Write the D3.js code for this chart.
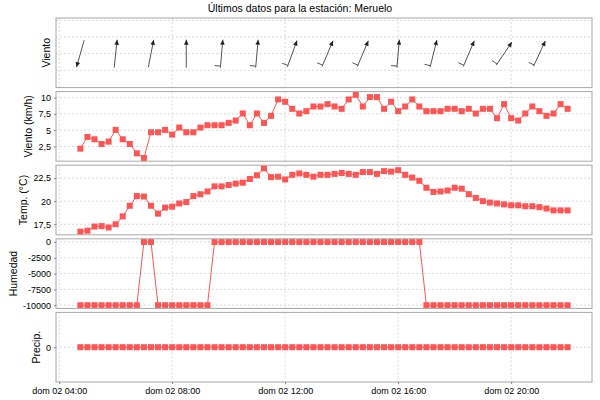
<!DOCTYPE html>
<html>
<head>
<meta charset="utf-8">
<script src="https://cdn.jsdelivr.net/npm/d3@7"></script>
<style>
body { margin: 0; background: #fff; }
svg { display: block; font-family: "Liberation Sans", Arial, sans-serif; }
</style>
</head>
<body>
<div id="chart"></div>
<script>
// observation times, 2 June 2013 (sunday), one every 15 minutes
var times = ['04:45', '05:00', '05:15', '05:30', '05:45', '06:00', '06:15', '06:30', '06:45', '07:00',
    '07:15', '07:30', '07:45', '08:00', '08:15', '08:30', '08:45', '09:00', '09:15', '09:30',
    '09:45', '10:00', '10:15', '10:30', '10:45', '11:00', '11:15', '11:30', '11:45', '12:00',
    '12:15', '12:30', '12:45', '13:00', '13:15', '13:30', '13:45', '14:00', '14:15', '14:30',
    '14:45', '15:00', '15:15', '15:30', '15:45', '16:00', '16:15', '16:30', '16:45', '17:00',
    '17:15', '17:30', '17:45', '18:00', '18:15', '18:30', '18:45', '19:00', '19:15', '19:30',
    '19:45', '20:00', '20:15', '20:30', '20:45', '21:00', '21:15', '21:30', '21:45', '22:00'];

var windSpeed = [2.16, 3.96, 3.6, 2.88, 3.24, 5.04, 3.6, 2.88, 1.44, 0.72,
    4.68, 4.68, 5.04, 4.32, 5.4, 4.68, 4.68, 5.4, 5.76, 5.76,
    5.76, 6.12, 6.48, 7.56, 5.76, 7.56, 6.12, 7.2, 9.72, 9.36,
    8.28, 7.56, 7.92, 8.64, 8.64, 9.0, 8.64, 8.28, 9.72, 10.44,
    8.64, 10.08, 10.08, 8.28, 9.36, 7.92, 8.64, 9.72, 8.64, 7.92,
    7.92, 7.92, 8.28, 8.28, 7.92, 8.28, 7.56, 8.28, 8.28, 6.84,
    9.0, 6.84, 6.48, 7.56, 8.64, 7.92, 7.2, 7.56, 9.0, 8.28];

var temperature = [16.7, 16.8, 17.25, 17.3, 17.15, 17.5, 18.35, 19.5, 20.55, 20.5,
    19.5, 18.65, 19.3, 19.4, 19.75, 19.9, 20.55, 20.75, 21.05, 21.6,
    21.6, 21.75, 21.9, 22.0, 22.4, 22.8, 23.55, 22.6, 22.65, 22.35,
    22.85, 23.0, 22.85, 22.65, 22.85, 22.85, 22.95, 23.05, 22.95, 22.85,
    23.15, 23.15, 22.95, 23.25, 23.2, 23.35, 22.85, 22.55, 22.2, 21.45,
    21.0, 21.05, 21.15, 21.45, 21.35, 20.75, 20.35, 20.0, 19.85, 19.75,
    19.65, 19.55, 19.55, 19.45, 19.45, 19.35, 19.2, 19.0, 19.0, 19.0];

var humidity = [-10000, -10000, -10000, -10000, -10000, -10000, -10000, -10000, -10000, 0,
    0, -10000, -10000, -10000, -10000, -10000, -10000, -10000, -10000, 0,
    0, 0, 0, 0, 0, 0, 0, 0, 0, 0,
    0, 0, 0, 0, 0, 0, 0, 0, 0, 0,
    0, 0, 0, 0, 0, 0, 0, 0, 0, -10000,
    -10000, -10000, -10000, -10000, -10000, -10000, -10000, -10000, -10000, -10000,
    -10000, -10000, -10000, -10000, -10000, -10000, -10000, -10000, -10000, -10000];

var precip = [0, 0, 0, 0, 0, 0, 0, 0, 0, 0,
    0, 0, 0, 0, 0, 0, 0, 0, 0, 0,
    0, 0, 0, 0, 0, 0, 0, 0, 0, 0,
    0, 0, 0, 0, 0, 0, 0, 0, 0, 0,
    0, 0, 0, 0, 0, 0, 0, 0, 0, 0,
    0, 0, 0, 0, 0, 0, 0, 0, 0, 0,
    0, 0, 0, 0, 0, 0, 0, 0, 0, 0];

// wind direction arrows (degrees the wind comes from)
var barbTimes = ['04:45', '06:00', '07:15', '08:30', '09:45', '11:00', '12:15',
    '13:30', '14:45', '16:00', '17:15', '18:30', '19:45', '21:00'];
var barbDir = [16, 186, 191, 180, 185, 185, 200, 203, 203, 185, 194, 203, 214, 205];
var barbFeathers = [0, 0, 0, 0, 1, 1, 1, 1, 1, 1, 1, 1, 1, 1];

var windTicks = [2.5, 5, 7.5, 10],
    tempTicks = [17.5, 20, 22.5],
    humTicks = [-10000, -7500, -5000, -2500, 0],
    precipTicks = [0],
    barbTicks = [-0.5, 0, 0.5, 1],
    barbRange = [-1.02, 1.07];

var title = 'Últimos datos para la estación: Meruelo';

(function () {
    var width = 600,
        height = 400,
        left = 56,
        right = 592,
        top = 18,
        bottom = 382,
        gap = 4,
        panelH = (bottom - top - gap * 4) / 5;

    var es = d3.timeFormatLocale({
        dateTime: '%A, %e de %B de %Y, %X',
        date: '%d/%m/%Y',
        time: '%H:%M:%S',
        periods: ['AM', 'PM'],
        days: ['domingo', 'lunes', 'martes', 'miércoles', 'jueves', 'viernes', 'sábado'],
        shortDays: ['dom', 'lun', 'mar', 'mié', 'jue', 'vie', 'sáb'],
        months: ['enero', 'febrero', 'marzo', 'abril', 'mayo', 'junio', 'julio', 'agosto', 'septiembre', 'octubre', 'noviembre', 'diciembre'],
        shortMonths: ['ene', 'feb', 'mar', 'abr', 'may', 'jun', 'jul', 'ago', 'sep', 'oct', 'nov', 'dic']
    });
    var num = d3.formatLocale({decimal: ',', thousands: '.', grouping: [3], currency: ['', ' €'], minus: '-'});
    var fmt = num.format('.2~f');

    function toDate(s) {
        var p = s.split(':');
        return new Date(2013, 5, 2, +p[0], +p[1]);
    }
    var dates = times.map(toDate);

    var t0 = dates[0], t1 = dates[dates.length - 1], span = t1 - t0;
    var x = d3.scaleTime()
        .domain([new Date(+t0 - span * 0.05), new Date(+t1 + span * 0.05)])
        .range([left, right]);
    var xTicks = x.ticks(d3.timeHour.every(4));

    var svg = d3.select('#chart').append('svg')
        .attr('width', width)
        .attr('height', height);

    svg.append('rect')
        .attr('width', width).attr('height', height)
        .style('fill', '#fff');

    svg.append('text')
        .attr('x', width / 2)
        .attr('y', 12)
        .attr('text-anchor', 'middle')
        .style('font-size', '10.5px')
        .text(title);

    function autoRange(values) {
        var ext = d3.extent(values);
        if (ext[0] === ext[1]) return [ext[0] - 1, ext[1] + 1];
        var m = (ext[1] - ext[0]) * 0.05;
        return [ext[0] - m, ext[1] + m];
    }

    var panels = [
        {label: 'Viento', domain: barbRange, ticks: barbTicks, showAxis: false},
        {label: 'Viento (km/h)', values: windSpeed, ticks: windTicks, showAxis: true},
        {label: 'Temp. (°C)', values: temperature, ticks: tempTicks, showAxis: true},
        {label: 'Humedad', values: humidity, ticks: humTicks, showAxis: true},
        {label: 'Precip.', values: precip, ticks: precipTicks, showAxis: true}
    ];

    panels.forEach(function (p, i) {
        var y0 = top + i * (panelH + gap),
            y1 = y0 + panelH;
        var y = d3.scaleLinear()
            .domain(p.domain || autoRange(p.values))
            .range([y1, y0]);
        p.y = y;

        var g = svg.append('g');

        // grid
        g.selectAll('.hgrid')
            .data(p.ticks)
            .enter().append('line')
            .attr('x1', left).attr('x2', right)
            .attr('y1', function (d) { return y(d); })
            .attr('y2', function (d) { return y(d); })
            .style('stroke', '#d2d2d2')
            .style('stroke-width', 0.8)
            .style('stroke-dasharray', '2,2');
        g.selectAll('.vgrid')
            .data(xTicks)
            .enter().append('line')
            .attr('x1', function (d) { return x(d); })
            .attr('x2', function (d) { return x(d); })
            .attr('y1', y0).attr('y2', y1)
            .style('stroke', '#d2d2d2')
            .style('stroke-width', 0.8)
            .style('stroke-dasharray', '2,2');

        if (p.values) {
            var line = d3.line()
                .x(function (d, j) { return x(dates[j]); })
                .y(function (d) { return y(d); });
            g.append('path')
                .datum(p.values)
                .attr('d', line)
                .style('fill', 'none')
                .style('stroke', '#ff5555')
                .style('stroke-width', 1);
            g.selectAll('rect.pt')
                .data(p.values)
                .enter().append('rect')
                .attr('class', 'pt')
                .attr('x', function (d, j) { return x(dates[j]) - 3; })
                .attr('y', function (d) { return y(d) - 3; })
                .attr('width', 6)
                .attr('height', 6)
                .style('fill', '#ff5555');
        }

        g.append('rect')
            .attr('x', left).attr('y', y0)
            .attr('width', right - left).attr('height', panelH)
            .style('fill', 'none')
            .style('stroke', '#a8a8a8')
            .style('stroke-width', 1);

        var labelX = left - 10;
        if (p.showAxis) {
            var ax = svg.append('g')
                .attr('transform', 'translate(' + left + ',0)')
                .call(d3.axisLeft(y).tickValues(p.ticks).tickSize(2).tickPadding(3).tickFormat(fmt));
            ax.select('.domain').remove();
            ax.selectAll('line').style('stroke', '#888');
            ax.selectAll('text').style('font-size', '9px').style('font-family', 'inherit').style('fill', '#000');
            labelX = left + ax.node().getBBox().x - 10;
        }

        svg.append('text')
            .attr('transform', 'translate(' + labelX + ',' + ((y0 + y1) / 2) + ') rotate(-90)')
            .attr('text-anchor', 'middle')
            .attr('dominant-baseline', 'central')
            .style('font-size', '10.5px')
            .text(p.label);

        if (i === panels.length - 1) {
            var xa = svg.append('g')
                .attr('transform', 'translate(0,' + y1 + ')')
                .call(d3.axisBottom(x).tickValues(xTicks).tickSize(2).tickPadding(4)
                    .tickFormat(es.format('%a %d %H:%M')));
            xa.select('.domain').remove();
            xa.selectAll('line').style('stroke', '#888');
            xa.selectAll('text').style('font-size', '9px').style('font-family', 'inherit').style('fill', '#000');
        }
    });

    // wind arrows in the first panel
    var yb = panels[0].y,
        half = 14;
    var barbs = barbTimes.map(function (t, k) {
        var b = (barbDir[k] + 180) * Math.PI / 180,
            vx = Math.sin(b), vy = -Math.cos(b),
            cx = x(toDate(t)), cy = yb(0);
        return {
            hx: cx + half * vx, hy: cy + half * vy,
            tx: cx - half * vx, ty: cy - half * vy,
            vx: vx, vy: vy, n: barbFeathers[k]
        };
    });

    var bg = svg.append('g');
    bg.selectAll('line.shaft')
        .data(barbs)
        .enter().append('line')
        .attr('x1', function (d) { return d.tx; })
        .attr('y1', function (d) { return d.ty; })
        .attr('x2', function (d) { return d.hx; })
        .attr('y2', function (d) { return d.hy; })
        .style('stroke', '#555')
        .style('stroke-width', 1);
    bg.selectAll('path.head')
        .data(barbs)
        .enter().append('path')
        .attr('d', function (d) {
            var bx = d.hx - 5 * d.vx, by = d.hy - 5 * d.vy,
                px = -d.vy * 2.3, py = d.vx * 2.3;
            return 'M' + d.hx + ',' + d.hy + 'L' + (bx + px) + ',' + (by + py) + 'L' + (bx - px) + ',' + (by - py) + 'Z';
        })
        .style('fill', '#222');
    bg.selectAll('line.feather')
        .data(barbs.filter(function (d) { return d.n > 0; }))
        .enter().append('line')
        .attr('x1', function (d) { return d.tx + d.vx * 1.5; })
        .attr('y1', function (d) { return d.ty + d.vy * 1.5; })
        .attr('x2', function (d) { return d.tx + d.vx * 1.5 + d.vy * 6; })
        .attr('y2', function (d) { return d.ty + d.vy * 1.5 - d.vx * 6; })
        .style('stroke', '#555')
        .style('stroke-width', 1);
}());
</script>
</body>
</html>
